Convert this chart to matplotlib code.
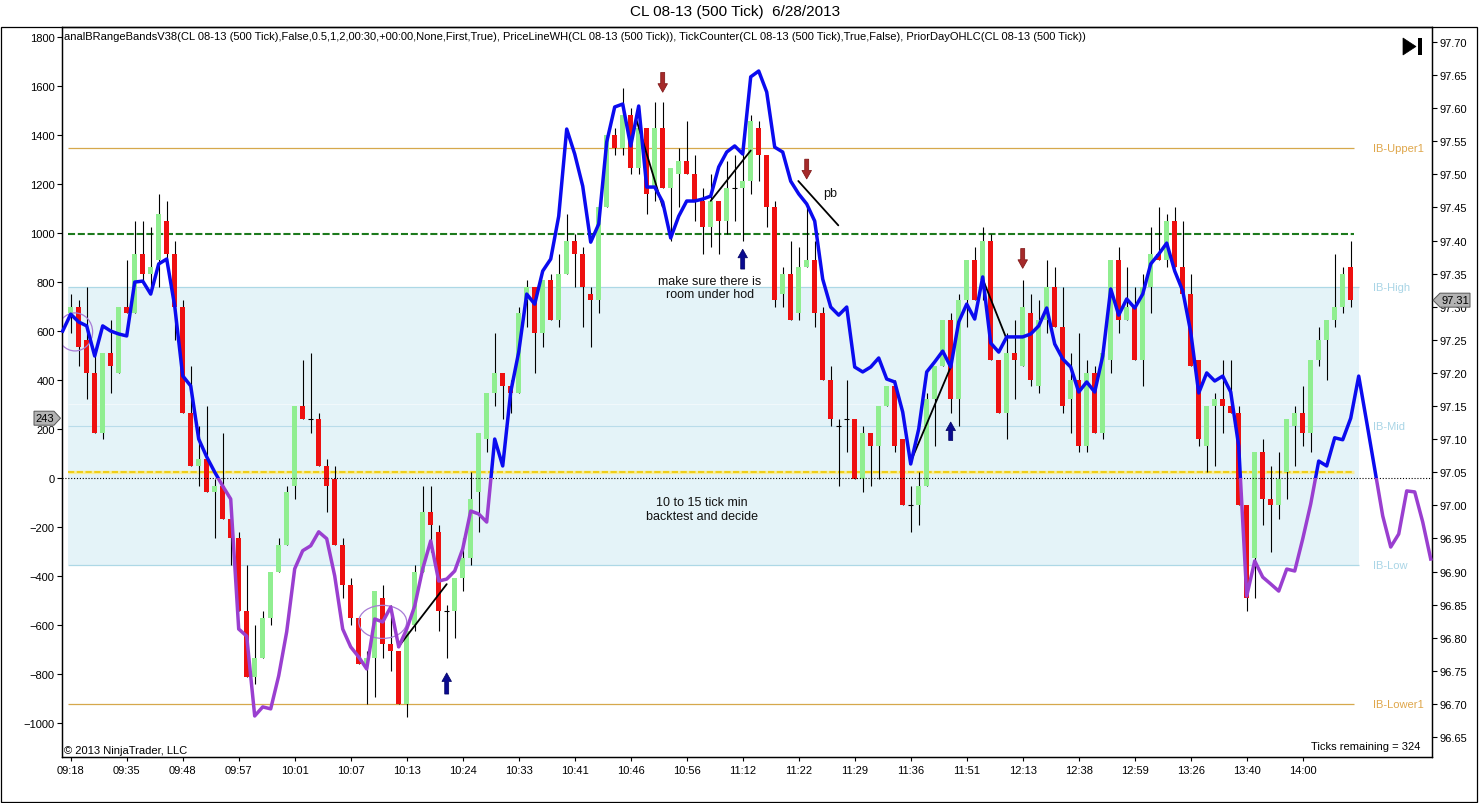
import numpy as np
import matplotlib
matplotlib.use("Agg")
import matplotlib.pyplot as plt
from matplotlib.patches import Rectangle, Ellipse, Polygon, FancyArrow

plt.rcParams['font.family'] = ['Liberation Sans', 'DejaVu Sans']

# ---------------- data ----------------
title = "CL 08-13 (500 Tick)  6/28/2013"
indicator_text = ("analBRangeBandsV38(CL 08-13 (500 Tick),False,0.5,1,2,00:30,+00:00,None,First,True), "
                  "PriceLineWH(CL 08-13 (500 Tick)), TickCounter(CL 08-13 (500 Tick),True,False), "
                  "PriorDayOHLC(CL 08-13 (500 Tick))")

opens = [97.29,97.30,97.25,97.20,97.11,97.23,97.20,97.30,97.29,97.38,
         97.35,97.37,97.43,97.38,97.30,97.14,97.06,97.07,97.02,97.03,
         96.98,96.95,96.84,96.74,96.77,96.83,96.90,96.94,97.03,97.15,
         97.13,97.13,97.06,97.04,96.94,96.88,96.83,96.76,96.77,96.86,
         96.79,96.78,96.70,96.82,96.90,96.99,96.96,96.84,96.84,96.89,
         96.92,97.02,97.10,97.17,97.20,97.18,97.17,97.31,97.33,97.26,
         97.34,97.28,97.35,97.40,97.38,97.32,97.31,97.45,97.56,97.54,
         97.59,97.51,97.57,97.48,97.57,97.48,97.50,97.52,97.50,97.46,
         97.42,97.46,97.43,97.48,97.48,97.49,97.57,97.53,97.45,97.32,
         97.35,97.29,97.36,97.37,97.29,97.19,97.12,97.13,97.13,97.04,
         97.11,97.09,97.15,97.18,97.10,97.00,97.00,97.03,97.16,97.21,
         97.28,97.16,97.31,97.37,97.34,97.40,97.22,97.14,97.23,97.21,
         97.29,97.18,97.28,97.33,97.27,97.16,97.19,97.09,97.20,97.11,
         97.22,97.37,97.28,97.30,97.22,97.33,97.38,97.37,97.43,97.36,
         97.32,97.22,97.09,97.15,97.16,97.15,97.14,97.00,96.92,97.08,
         97.01,97.00,97.05,97.12,97.14,97.11,97.22,97.25,97.28,97.30,
         97.36]
highs = [97.32,97.31,97.33,97.23,97.23,97.28,97.30,97.37,97.43,97.43,
         97.42,97.47,97.46,97.40,97.31,97.21,97.12,97.15,97.04,97.11,
         96.98,96.96,96.91,96.82,96.84,96.90,96.95,97.03,97.15,97.22,
         97.23,97.14,97.07,97.06,96.95,96.89,96.83,96.78,96.87,96.88,
         96.85,96.78,96.81,96.91,97.03,97.03,96.97,96.85,96.89,96.95,
         97.05,97.11,97.17,97.26,97.20,97.19,97.30,97.34,97.33,97.34,
         97.35,97.38,97.44,97.41,97.39,97.33,97.45,97.56,97.57,97.63,
         97.60,97.60,97.57,97.61,97.61,97.51,97.54,97.58,97.53,97.48,
         97.50,97.46,97.52,97.53,97.54,97.59,97.58,97.53,97.46,97.36,
         97.40,97.39,97.45,97.40,97.30,97.21,97.13,97.19,97.13,97.12,
         97.11,97.15,97.18,97.19,97.10,97.03,97.05,97.17,97.21,97.28,
         97.29,97.32,97.37,97.39,97.42,97.41,97.22,97.26,97.28,97.34,
         97.32,97.31,97.37,97.36,97.33,97.23,97.26,97.22,97.21,97.23,
         97.37,97.39,97.36,97.33,97.35,97.42,97.45,97.44,97.45,97.43,
         97.35,97.22,97.15,97.17,97.22,97.22,97.15,97.00,97.08,97.10,
         97.06,97.08,97.13,97.15,97.18,97.22,97.27,97.28,97.38,97.36,
         97.40]
lows = [97.26,97.21,97.16,97.11,97.10,97.17,97.20,97.29,97.29,97.34,
        97.33,97.33,97.36,97.25,97.14,97.06,97.03,97.02,96.95,96.98,
        96.91,96.84,96.74,96.73,96.77,96.82,96.90,96.94,97.01,97.13,
        97.11,97.06,96.99,96.94,96.86,96.82,96.76,96.70,96.71,96.77,
        96.75,96.70,96.68,96.81,96.90,96.93,96.81,96.77,96.80,96.87,
        96.91,96.96,97.08,97.15,97.13,97.14,97.17,97.27,97.20,97.24,
        97.28,97.27,97.35,97.33,97.27,97.24,97.29,97.45,97.53,97.53,
        97.50,97.50,97.44,97.46,97.48,97.40,97.45,97.50,97.43,97.38,
        97.39,97.38,97.41,97.43,97.40,97.47,97.49,97.42,97.30,97.30,
        97.28,97.28,97.36,97.27,97.19,97.12,97.03,97.08,97.04,97.02,
        97.03,97.04,97.15,97.08,97.00,96.96,96.97,97.03,97.09,97.21,
        97.14,97.12,97.27,97.31,97.31,97.22,97.14,97.10,97.16,97.21,
        97.18,97.17,97.26,97.27,97.14,97.11,97.08,97.08,97.11,97.10,
        97.20,97.26,97.28,97.22,97.18,97.29,97.37,97.36,97.36,97.32,
        97.21,97.09,97.05,97.06,97.11,97.14,97.00,96.84,96.86,96.97,
        96.93,96.98,97.01,97.06,97.09,97.08,97.21,97.19,97.27,97.29,
        97.30]
closes = [97.30,97.24,97.20,97.11,97.23,97.21,97.30,97.29,97.38,97.35,
          97.36,97.44,97.38,97.30,97.14,97.06,97.07,97.02,97.03,96.98,
          96.95,96.84,96.74,96.77,96.83,96.90,96.94,97.02,97.15,97.13,
          97.13,97.06,97.03,96.94,96.88,96.83,96.76,96.77,96.87,96.79,
          96.78,96.70,96.81,96.90,96.99,96.97,96.84,96.84,96.89,96.92,
          97.01,97.11,97.17,97.20,97.18,97.17,97.29,97.33,97.26,97.34,
          97.28,97.35,97.40,97.38,97.33,97.31,97.45,97.56,97.54,97.59,
          97.51,97.57,97.47,97.57,97.48,97.51,97.52,97.50,97.46,97.42,
          97.46,97.43,97.48,97.48,97.49,97.58,97.53,97.45,97.31,97.35,
          97.28,97.36,97.37,97.29,97.19,97.13,97.12,97.13,97.04,97.11,
          97.09,97.15,97.18,97.09,97.00,97.00,97.03,97.16,97.21,97.28,
          97.16,97.31,97.37,97.31,97.40,97.22,97.14,97.23,97.22,97.30,
          97.19,97.28,97.33,97.27,97.15,97.19,97.09,97.20,97.11,97.23,
          97.37,97.28,97.30,97.22,97.33,97.38,97.37,97.43,97.36,97.32,
          97.21,97.10,97.15,97.16,97.15,97.14,97.00,96.86,97.08,97.01,
          97.00,97.04,97.13,97.14,97.11,97.22,97.25,97.28,97.30,97.35,
          97.31]

# oscillator line (left scale), bar index -1 .. 170
line_start = -1
line_values = [599,668,636,620,497,620,599,587,579,799,
               803,750,873,893,701,416,375,158,85,23,
               -34,-87,-618,-647,-973,-936,-944,-809,-629,-372,
               -298,-278,-221,-249,-401,-618,-691,-732,-781,-577,
               -589,-528,-691,-618,-524,-372,-258,-422,-414,-381,
               -291,-136,-148,-181,158,48,350,513,750,709,
               844,893,1068,1424,1322,1191,962,1036,1371,1514,
               1526,1355,1518,1187,1187,1126,979,1068,1130,1130,
               1138,1150,1269,1330,1355,1322,1637,1661,1575,1350,
               1330,1211,1159,1118,1048,811,697,664,697,452,
               432,452,489,403,391,268,56,199,432,473,
               517,452,636,709,648,820,550,513,575,575,
               575,587,620,693,546,485,452,350,391,350,
               497,771,664,730,693,750,873,913,958,844,
               763,595,346,428,395,415,350,129,-483,-340,
               -406,-434,-463,-373,-381,-250,-107,68,48,163,
               155,243,415,227,36,-156,-283,-230,-54,-58,
               -181,-332]

time_labels = ['09:18','09:35','09:48','09:57','10:01','10:07','10:13','10:24',
               '10:33','10:41','10:46','10:56','11:12','11:22','11:29','11:36',
               '11:51','12:13','12:38','12:59','13:26','13:40','14:00']
label_step = 7

ib_upper1, ib_high, ib_mid, ib_low, ib_lower1 = 97.54, 97.33, 97.12, 96.91, 96.70
ib_inner = 97.153
prior_high = 97.41
prior_close = 97.05
last_price = 97.31
last_value = 243
ticks_remaining = 324

down_arrows = [(74, 97.654, 97.624), (92, 97.523, 97.493), (119, 97.388, 97.358)]
up_arrows = [(47, 96.715, 96.747), (84, 97.357, 97.387), (110, 97.098, 97.126)]
trend_lines = [((40.95, 96.786), (47.0, 96.881)),
               ((70.75, 97.581), (74.0, 97.451)),
               ((80.0, 97.460), (85.0, 97.536)),
               ((90.95, 97.490), (95.95, 97.423)),
               ((104.9, 97.063), (110.0, 97.209)),
               ((114.0, 97.342), (116.9, 97.254))]
ellipses = [(0.54, 97.262, 4.4, 0.0574), (39.0, 96.824, 6.0, 0.050)]
notes = [("make sure there is\nroom under hod", 79.9, 97.329),
         ("10 to 15 tick min\nbacktest and decide", 78.9, 96.994),
         ("pb", 94.95, 97.472)]

# ---------------- layout ----------------
W, H = 1479, 804
L0, R0, T0, B0 = 62, 1432, 27.7, 758
fig = plt.figure(figsize=(W / 100, H / 100), dpi=100)
fig.patch.set_facecolor('white')
ax = fig.add_axes([L0 / W, 1 - B0 / H, (R0 - L0) / W, (B0 - T0) / H])
axL = ax.twinx()

n = len(opens)
x = np.arange(n)
o = np.array(opens); h = np.array(highs); l = np.array(lows); c = np.array(closes)

ax.set_xlim(-1.0875, 170.16)
ax.set_ylim(96.6199, 97.7231)
axL.set_ylim(-1140.6, 1841.9)

# IB band and levels
band_x0, band_x1, lines_x1 = -0.4, 161.0, 160.4
ax.add_patch(Rectangle((band_x0, ib_low), band_x1 - band_x0, ib_high - ib_low,
                       facecolor='#e4f3f8', edgecolor='none', zorder=0.5))
ax.hlines([ib_high, ib_low], band_x0, band_x1, colors='#add8e6', lw=0.9, zorder=1)
ax.hlines([ib_inner], band_x0, band_x1, colors='#f2f9fc', lw=0.7, zorder=1)
ax.hlines([ib_mid], band_x0, band_x1, colors='#b9dcea', lw=0.8, zorder=1)
ax.hlines([ib_upper1, ib_lower1], band_x0, lines_x1, colors='#d6a84c', lw=0.9, zorder=1)
ax.hlines([prior_high], band_x0, lines_x1, colors='#1c7a1c', lw=1.5,
          linestyles=[(0, (3.4, 1.3))], zorder=1.2)
ax.hlines([prior_close], band_x0, lines_x1, colors='#f7eea0', lw=2.4, zorder=1.1)
ax.hlines([prior_close], band_x0, lines_x1, colors='#f0cf1a', lw=1.5,
          linestyles=[(0, (3.0, 1.2))], zorder=1.2)
axL.axhline(0, color='black', lw=0.8, ls=(0, (1, 1.6)), zorder=1)

# candles
ax.vlines(x, l, h, colors='black', lw=0.8, zorder=3)
up = c > o
dn = c < o
bw = 0.62
ax.bar(x[up], (c - o)[up], bottom=o[up], width=bw, color='#90ee90', linewidth=0, zorder=4)
ax.bar(x[dn], (o - c)[dn], bottom=c[dn], width=bw, color='#ee1010', linewidth=0, zorder=4)
dj = ~(up | dn)
ax.hlines(o[dj], x[dj] - bw / 2, x[dj] + bw / 2, colors='black', lw=0.8, zorder=4)

# annotations
for (p0, p1) in trend_lines:
    ax.plot([p0[0], p1[0]], [p0[1], p1[1]], color='black', lw=1.3, zorder=5,
            solid_capstyle='round')
for (bx, ytop, ytip) in down_arrows:
    ax.add_patch(FancyArrow(bx, ytop, 0, ytip - ytop, width=0.5, head_width=1.2,
                            head_length=0.013, length_includes_head=True,
                            facecolor='#a52a2a', edgecolor='#7a1010', lw=0.5, zorder=6))
for (bx, ybot, ytip) in up_arrows:
    ax.add_patch(FancyArrow(bx, ybot, 0, ytip - ybot, width=0.5, head_width=1.2,
                            head_length=0.013, length_includes_head=True,
                            facecolor='#0a0a90', edgecolor='#000060', lw=0.5, zorder=6))
for (ex, ey, ew, eh) in ellipses:
    ax.add_patch(Ellipse((ex, ey), ew, eh, fill=False, edgecolor='#a77bd6', lw=0.9, zorder=6))
for (txt, tx, ty) in notes:
    ax.text(tx, ty, txt, ha='center', va='center', fontsize=9, color='#111111', zorder=7)

# IB labels
lab_x = 162.8
ax.text(lab_x, ib_upper1, 'IB-Upper1', color='#dfa64a', fontsize=8, va='center', ha='left')
ax.text(lab_x, ib_lower1, 'IB-Lower1', color='#dfa64a', fontsize=8, va='center', ha='left')
ax.text(lab_x, ib_high, 'IB-High', color='#a9d5e6', fontsize=8, va='center', ha='left')
ax.text(lab_x, ib_mid, 'IB-Mid', color='#a9d5e6', fontsize=8, va='center', ha='left')
ax.text(lab_x, ib_low, 'IB-Low', color='#a9d5e6', fontsize=8, va='center', ha='left')

# oscillator line, blue above zero, purple below
lx = np.arange(line_start, line_start + len(line_values))
lv = np.array(line_values, dtype=float)
clip_up = Rectangle((-10, 0), 200, 10000, transform=axL.transData)
clip_dn = Rectangle((-10, -10000), 200, 10000, transform=axL.transData)
ln1, = axL.plot(lx, lv, color='#0b0bef', lw=2.5, solid_joinstyle='round', zorder=5)
ln1.set_clip_path(clip_up)
ln2, = axL.plot(lx, lv, color='#9a3fd0', lw=2.5, solid_joinstyle='round', zorder=5)
ln2.set_clip_path(clip_dn)

# axes / ticks
ax.set_xticks(np.arange(0, label_step * len(time_labels), label_step))
ax.set_xticklabels(time_labels)
ax.yaxis.tick_right()
ptick = np.round(np.arange(96.65, 97.7001, 0.05), 2)
ax.set_yticks(ptick)
ax.set_yticklabels([f'{v:.2f}' for v in ptick])
axL.yaxis.tick_left()
axL.yaxis.set_label_position('left')
axL.set_yticks(np.arange(-1000, 1801, 200))
ax.tick_params(axis='x', direction='out', length=3.2, width=0.8, pad=2.5, labelsize=8)
ax.tick_params(axis='y', direction='out', length=3.5, width=0.8, pad=1.8, labelsize=8)
axL.tick_params(axis='y', direction='out', length=3.5, width=0.8, pad=1.8, labelsize=8)
for a in (ax, axL):
    for s in a.spines.values():
        s.set_linewidth(0.9)
        s.set_color('black')

# texts in axes
ax.text(0.0015, 0.9945, indicator_text, transform=ax.transAxes, fontsize=8,
        ha='left', va='top', color='black', zorder=8)
ax.text(0.0015, 0.0095, '\u00a9 2013 NinjaTrader, LLC', transform=ax.transAxes,
        fontsize=8, ha='left', va='center', color='black')
ax.text(0.9912, 0.0150, f'Ticks remaining = {ticks_remaining}', transform=ax.transAxes,
        fontsize=8, ha='right', va='center', color='black')

fig.text(735 / W, 1 - 12 / H, title, ha='center', va='center', fontsize=11)

# helpers for pixel-placed decorations
def fpt(px, py):
    return (px / W, 1 - py / H)

# outer border
x0, y0 = fpt(0.5, 803)
x1, y1 = fpt(1477.5, T0)
fig.add_artist(Rectangle((x0, y0), x1 - x0, y1 - y0, transform=fig.transFigure,
                         fill=False, edgecolor='black', lw=0.9))

# play-to-end icon
fig.add_artist(Polygon([fpt(1403, 39), fpt(1403, 56), fpt(1416, 47.5)], closed=True,
                       transform=fig.transFigure, facecolor='black', edgecolor='black', lw=0.5))
bx0, by0 = fpt(1418, 56)
bx1, by1 = fpt(1422, 39)
fig.add_artist(Rectangle((bx0, by0), bx1 - bx0, by1 - by0, transform=fig.transFigure,
                         facecolor='black', edgecolor='none'))

# price tags
yp = H - ax.transData.transform((0, last_price))[1]
fig.add_artist(Polygon([fpt(1433, yp), fpt(1440, yp - 7), fpt(1470, yp - 7),
                        fpt(1470, yp + 7), fpt(1440, yp + 7)], closed=True,
                       transform=fig.transFigure, facecolor='#b3b3b3', edgecolor='#555555', lw=0.7))
fig.text(*fpt(1455.5, yp), f'{last_price:.2f}', ha='center', va='center', fontsize=8)
yv = H - axL.transData.transform((0, last_value))[1]
fig.add_artist(Polygon([fpt(60.5, yv), fpt(54, yv - 7), fpt(34, yv - 7),
                        fpt(34, yv + 7), fpt(54, yv + 7)], closed=True,
                       transform=fig.transFigure, facecolor='#b3b3b3', edgecolor='#555555', lw=0.7))
fig.text(*fpt(45, yv), f'{last_value}', ha='center', va='center', fontsize=8)

fig.savefig('out.png', dpi=100)
